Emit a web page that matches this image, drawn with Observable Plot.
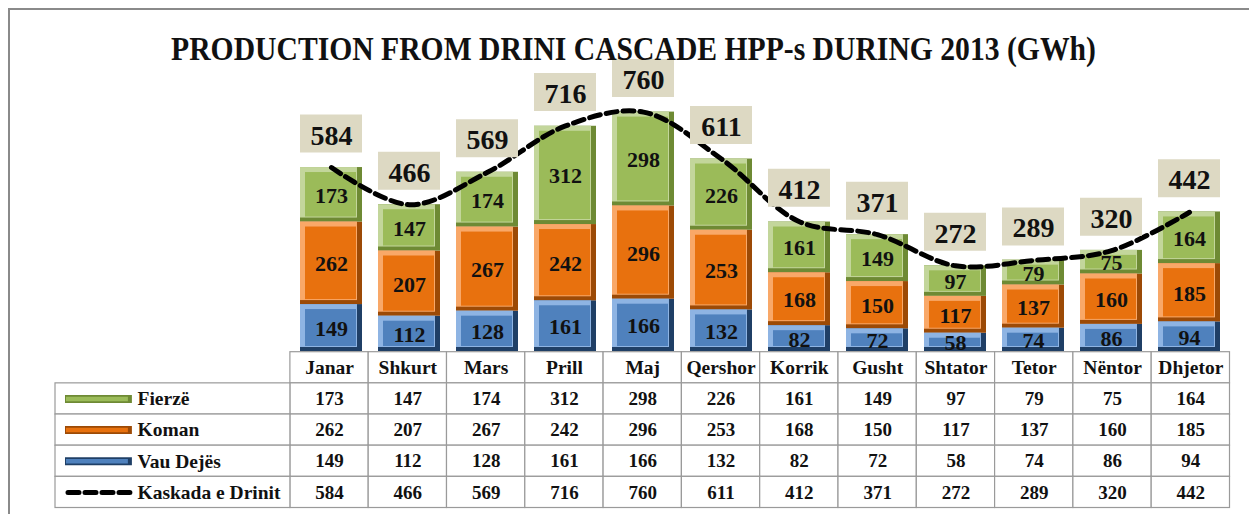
<!DOCTYPE html>
<html>
<head>
<meta charset="utf-8">
<script src="https://cdn.jsdelivr.net/npm/d3@7"></script>
<script src="https://cdn.jsdelivr.net/npm/@observablehq/plot@0.6"></script>
<style>
  html, body { margin: 0; padding: 0; background: #fff; }
  body { width: 1249px; height: 514px; position: relative; overflow: hidden; font-family: "Liberation Serif", serif; }
  #frame { position: absolute; left: 8px; top: 8px; width: 1300px; height: 600px; border-top: 2px solid #8a8a8a; border-left: 2px solid #8a8a8a; }
  #title { position: absolute; left: 0; top: 37px; width: 1267px; height: 24px; text-align: center; font-weight: bold; font-size: 34px; line-height: 24px; color: #111; transform: scaleX(0.872); transform-origin: 633.5px 0; white-space: nowrap; }
  #chart { position: absolute; left: 0; top: 0; }
  #table { position: absolute; left: 0; top: 351px; }
</style>
</head>
<body>
<div id="frame"></div>
<div id="chart"></div>
<div id="table"></div>
<div id="title">PRODUCTION FROM DRINI CASCADE HPP-s DURING 2013 (GWh)</div>
<script>
const months = ["Janar","Shkurt","Mars","Prill","Maj","Qershor","Korrik","Gusht","Shtator","Tetor","Nëntor","Dhjetor"];
const fierze = [173,147,174,312,298,226,161,149,97,79,75,164];
const koman = [262,207,267,242,296,253,168,150,117,137,160,185];
const vauDejes = [149,112,128,161,166,132,82,72,58,74,86,94];
const kaskada = [584,466,569,716,760,611,412,371,272,289,320,442];
const seriesNames = ["Vau Dejës","Koman","Fierzë"];
const tableRows = ["Fierzë","Koman","Vau Dejës","Kaskada e Drinit"];

const seriesValues = {"Vau Dejës": vauDejes, "Koman": koman, "Fierzë": fierze};
const colors = {
  "Fierzë":   {face: "#9BBB59", light: "#C3D69B", dark: "#6E8A34"},
  "Koman":    {face: "#E8710E", light: "#F9A868", dark: "#9C4A06"},
  "Vau Dejës":{face: "#4F81BD", light: "#8EB4E3", dark: "#1F3F66"}
};

const long = [];
for (const s of seriesNames) months.forEach((m, i) => long.push({month: m, series: s, value: seriesValues[s][i]}));
const totals = months.map((m, i) => ({month: m, total: kaskada[i]}));

const font = "Liberation Serif";
const barOpts = (extra) => Object.assign({x: "month", y: "value", z: "series", order: seriesNames}, extra);

const chart = Plot.plot({
  width: 1249, height: 352,
  marginLeft: 290.5, marginRight: 20, marginTop: 99, marginBottom: 1,
  style: {fontFamily: font, background: "transparent", overflow: "visible"},
  x: {domain: months, paddingInner: 0.2, paddingOuter: 0.1, axis: null},
  y: {domain: [0, 800], axis: null},
  marks: [
    Plot.barY(long, barOpts({fill: d => colors[d.series].dark})),
    Plot.barY(long, barOpts({fill: d => colors[d.series].light, insetRight: 5, insetBottom: 4})),
    Plot.barY(long, barOpts({fill: d => colors[d.series].face, insetLeft: 5, insetRight: 6, insetTop: 5, insetBottom: 5})),
    Plot.text(long, Plot.stackY({x: "month", y: "value", z: "series", order: seriesNames, text: d => String(d.value), fontSize: 22, fontWeight: "bold", fill: "#111", dy: 1})),
    Plot.line(totals, {x: "month", y: "total", curve: "catmull-rom", stroke: "#000", strokeWidth: 5, strokeDasharray: "11,6"}),
    Plot.tickY(totals, {x: "month", y: "total", stroke: "#DDD9C3", strokeWidth: 38, dy: -34}),
    Plot.text(totals, {x: "month", y: "total", text: d => String(d.total), dy: -32, fontSize: 28, fontWeight: "bold", fill: "#111"})
  ]
});
document.getElementById("chart").appendChild(chart);

// table
const headerCells = months.map((m, i) => ({col: i, row: 0, text: m}));
const bodyCells = [];
const rowData = [fierze, koman, vauDejes, kaskada];
rowData.forEach((arr, r) => arr.forEach((v, i) => bodyCells.push({col: i, row: r + 1, text: String(v)})));
const legendCells = tableRows.map((name, r) => ({name, row: r + 1}));
const legendBars = legendCells.slice(0, 3);
const legendLine = legendCells.slice(3);

const table = Plot.plot({
  width: 1249, height: 163,
  marginLeft: 55, marginRight: 20, marginTop: 0, marginBottom: 0,
  style: {fontFamily: font, background: "transparent", overflow: "visible"},
  x: {domain: [-3, 12], range: [55, 1229.5], axis: null},
  y: {domain: [0, 5], range: [0.7, 156.5], axis: null},
  marks: [
    Plot.rect(headerCells.concat(bodyCells), {x1: "col", x2: d => d.col + 1, y1: "row", y2: d => d.row + 1, fill: "#fff", stroke: "#9a9a9a", strokeWidth: 1.2}),
    Plot.rect(legendCells, {x1: -3, x2: 0, y1: "row", y2: d => d.row + 1, fill: "#fff", stroke: "#9a9a9a", strokeWidth: 1.2}),
    Plot.text(headerCells, {x: d => d.col + 0.5, y: d => d.row + 0.5, text: "text", fontSize: 19.5, fontWeight: "bold", fill: "#111"}),
    Plot.text(bodyCells, {x: d => d.col + 0.5, y: d => d.row + 0.5, text: "text", fontSize: 19, fontWeight: "bold", fill: "#111"}),
    Plot.ruleY(legendBars, {x1: -3, x2: 0, y: d => d.row + 0.5, stroke: d => colors[d.name].dark, strokeWidth: 8, insetLeft: 10, insetRight: 158}),
    Plot.ruleY(legendBars, {x1: -3, x2: 0, y: d => d.row + 0.5, stroke: d => colors[d.name].face, strokeWidth: 4.5, insetLeft: 11, insetRight: 162}),
    Plot.ruleY(legendLine, {x1: -3, x2: 0, y: d => d.row + 0.5, stroke: "#000", strokeWidth: 5, strokeDasharray: "11,6", strokeLinecap: "round", insetLeft: 13, insetRight: 160}),
    Plot.text(legendCells, {x: -3, y: d => d.row + 0.5, text: "name", dx: 82, textAnchor: "start", fontSize: 19.5, fontWeight: "bold", fill: "#111"})
  ]
});
document.getElementById("table").appendChild(table);
</script>
</body>
</html>
